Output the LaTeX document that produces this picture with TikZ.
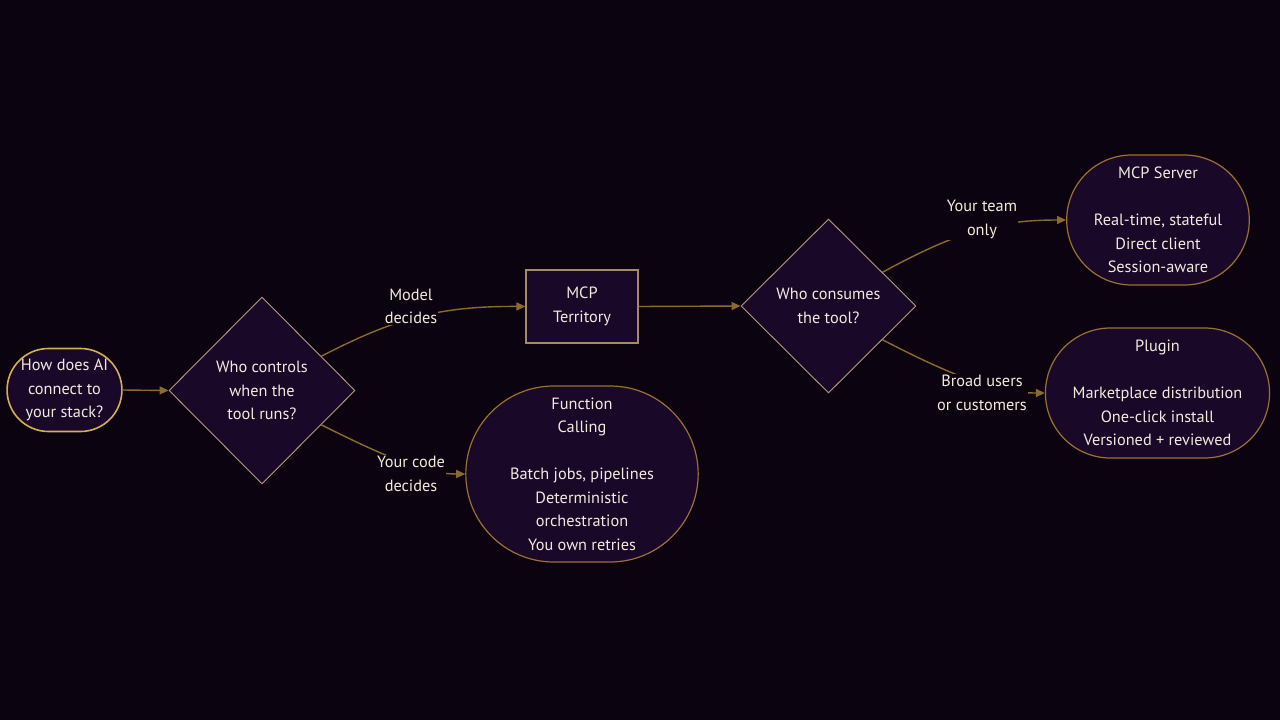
\documentclass[tikz,border=0pt]{standalone}
\usepackage{fontspec}
\setmainfont{PT Sans}
\usetikzlibrary{shapes.geometric,shapes.misc,arrows.meta}
\definecolor{bgc}{HTML}{0B0410}
\definecolor{nodefill}{HTML}{1A0828}
\definecolor{startborder}{HTML}{D4AF55}
\definecolor{diaborder}{HTML}{B39C78}
\definecolor{boxborder}{HTML}{A38B6A}
\definecolor{stadborder}{HTML}{9C7030}
\definecolor{edgec}{HTML}{8C6A2C}
\definecolor{txt}{HTML}{F2EBDC}
\tikzset{
  base/.style={fill=nodefill, text=txt, align=center, inner sep=0pt,
    font=\fontsize{16.3}{23.5}\selectfont},
  startnode/.style={base, rounded rectangle, draw=startborder, line width=1.6pt,
    minimum width=114pt, minimum height=83pt},
  decision/.style={base, diamond, draw=diaborder, line width=0.9pt},
  boxnode/.style={base, rectangle, draw=boxborder, line width=1.2pt,
    minimum width=112pt, minimum height=73pt},
  stad/.style={base, rounded rectangle, draw=stadborder, line width=1.2pt},
  edge/.style={draw=edgec, line width=1.4pt, -{Triangle[length=9pt,width=8pt]}},
  elabel/.style={fill=bgc, text=txt, align=center, inner sep=1pt,
    font=\fontsize{16.3}{23.5}\selectfont}
}
\begin{document}
\begin{tikzpicture}[x=1pt,y=-1pt]
\fill[bgc] (0,0) rectangle (1280,720);
\useasboundingbox (0,0) rectangle (1280,720);

\node[startnode] (start) at (64.5,390) {How does AI\\connect to\\your stack?};
\node[decision, minimum width=186pt, minimum height=187pt] (d1) at (262,390.5) {Who controls\\when the\\tool runs?};
\node[boxnode] (mcp) at (582,306.5) {MCP\\Territory};
\node[stad, minimum width=230pt, minimum height=176pt] (fc) at (582,474) {Function\\Calling\\[23.5pt]Batch jobs, pipelines\\Deterministic\\orchestration\\You own retries};
\node[decision, minimum width=175pt, minimum height=174pt] (d2) at (828.5,306) {Who consumes\\the tool?};
\node[stad, minimum width=178pt, minimum height=130pt] (srv) at (1158,220) {MCP Server\\[23.5pt]Real-time, stateful\\Direct client\\Session-aware};
\node[stad, minimum width=217pt, minimum height=130pt] (plg) at (1157.5,393) {Plugin\\[23.5pt]Marketplace distribution\\One-click install\\Versioned + reviewed};

\draw[edge] (start.east) -- (d1.west);
\draw[edge] (mcp.east) -- (d2.west);

\draw[edge] (d1.30) .. controls (395,318) and (440,306) .. (mcp.west);
\draw[edge] (d1.-30) .. controls (395,462) and (430,474) .. (fc.west);
\draw[edge] (d2.32) .. controls (960,230) and (1000,220) .. (srv.west);
\draw[edge] (d2.-32) .. controls (960,380) and (1000,393) .. (plg.west);

\node[elabel] (l1) at (411,306.5) {Model\\decides};
\node[elabel] (l2) at (411,474) {Your code\\decides};
\node[elabel] (l3) at (982,219.5) {Your team\\only};
\node[elabel] (l4) at (982,393) {Broad users\\or customers};
\end{tikzpicture}
\end{document}
